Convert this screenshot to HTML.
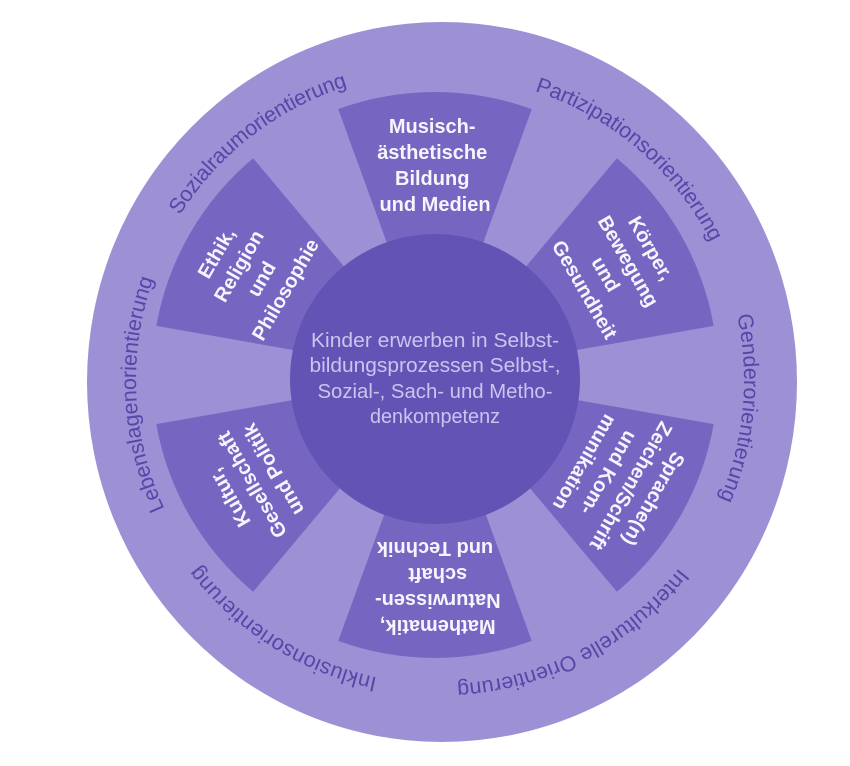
<!DOCTYPE html>
<html>
<head>
<meta charset="utf-8">
<style>
  html, body { margin:0; padding:0; background:#ffffff; }
  svg { display:block; }
  .seg { font-family:"Liberation Sans", Arial, sans-serif; font-weight:bold; font-size:20px; fill:#f6f4fc; }
  .ctr { font-family:"Liberation Sans", Arial, sans-serif; font-size:20px; fill:#cbc4ef; }
  .ring { font-family:"Liberation Sans", Arial, sans-serif; font-size:21.5px; fill:#5646a8; }
</style>
</head>
<body>
<svg width="850" height="766" viewBox="0 0 850 766" xmlns="http://www.w3.org/2000/svg">
  <defs>
    <path id="ringA" d="M 440 76 A 304 304 0 1 1 440 684 A 304 304 0 1 1 440 76"/>
    <path id="ringB" d="M 440 72 A 308 308 0 1 1 440 688 A 308 308 0 1 1 440 72"/>
  </defs>

  <!-- outer ring -->
  <ellipse cx="442" cy="382" rx="355" ry="360" fill="#9d90d5"/>

  <!-- segments -->
  <g fill="#7666c2">
    <path d="M435 375 L338.2 109.1 A283 283 0 0 1 531.8 109.1 Z"/>
    <path d="M435 375 L616.9 158.2 A283 283 0 0 1 713.7 325.9 Z"/>
    <path d="M435 375 L713.7 424.1 A283 283 0 0 1 616.9 591.8 Z"/>
    <path d="M435 375 L531.8 640.9 A283 283 0 0 1 338.2 640.9 Z"/>
    <path d="M435 375 L253.1 591.8 A283 283 0 0 1 156.3 424.1 Z"/>
    <path d="M435 375 L156.3 325.9 A283 283 0 0 1 253.1 158.2 Z"/>
  </g>

  <!-- center circle -->
  <circle cx="435" cy="379" r="145" fill="#6353b5"/>

  <!-- center text -->
  <g class="ctr" text-anchor="middle">
    <text x="435" y="347" textLength="248" lengthAdjust="spacingAndGlyphs">Kinder erwerben in Selbst-</text>
    <text x="435" y="372" textLength="251" lengthAdjust="spacingAndGlyphs">bildungsprozessen Selbst-,</text>
    <text x="435" y="398" textLength="235" lengthAdjust="spacingAndGlyphs">Sozial-, Sach- und Metho-</text>
    <text x="435" y="423" textLength="130" lengthAdjust="spacingAndGlyphs">denkompetenz</text>
  </g>

  <!-- segment texts -->
  <g transform="translate(435,164) rotate(0)">
    <text class="seg" text-anchor="middle">
      <tspan x="0" y="-31">Musisch-</tspan>
      <tspan x="0" y="-5">ästhetische</tspan>
      <tspan x="0" y="21">Bildung</tspan>
      <tspan x="0" y="47">und Medien</tspan>
    </text>
  </g>
  <g transform="translate(619.5,269.5) rotate(60)">
    <text class="seg" text-anchor="middle">
      <tspan x="0" y="-31">Körper,</tspan>
      <tspan x="0" y="-5">Bewegung</tspan>
      <tspan x="0" y="21">und</tspan>
      <tspan x="0" y="47">Gesundheit</tspan>
    </text>
  </g>
  <g transform="translate(619.5,482.5) rotate(120)">
    <text class="seg" text-anchor="middle">
      <tspan x="0" y="-31">Sprache(n)</tspan>
      <tspan x="0" y="-5">Zeichen/Schrift</tspan>
      <tspan x="0" y="21">und Kom-</tspan>
      <tspan x="0" y="47">munikation</tspan>
    </text>
  </g>
  <g transform="translate(435,589) rotate(180)">
    <text class="seg" text-anchor="middle">
      <tspan x="0" y="-31">Mathematik,</tspan>
      <tspan x="0" y="-5">Naturwissen-</tspan>
      <tspan x="0" y="21">schaft</tspan>
      <tspan x="0" y="47">und Technik</tspan>
    </text>
  </g>
  <g transform="translate(250.5,482.5) rotate(240)">
    <text class="seg" text-anchor="middle">
      <tspan x="0" y="-19">Kultur,</tspan>
      <tspan x="0" y="7">Gesellschaft</tspan>
      <tspan x="0" y="33">und Politik</tspan>
    </text>
  </g>
  <g transform="translate(250.5,269.5) rotate(300)">
    <text class="seg" text-anchor="middle">
      <tspan x="0" y="-31">Ethik,</tspan>
      <tspan x="0" y="-5">Religion</tspan>
      <tspan x="0" y="21">und</tspan>
      <tspan x="0" y="47">Philosophie</tspan>
    </text>
  </g>

  <!-- ring labels -->
  <text class="ring" text-anchor="middle"><textPath href="#ringB" startOffset="89.56%" textLength="216" lengthAdjust="spacing">Sozialraumorientierung</textPath></text>
  <text class="ring" text-anchor="middle"><textPath href="#ringA" startOffset="11.28%" textLength="238" lengthAdjust="spacing">Partizipationsorientierung</textPath></text>
  <text class="ring" text-anchor="middle"><textPath href="#ringA" startOffset="26.5%" textLength="188" lengthAdjust="spacing">Genderorientierung</textPath></text>
  <text class="ring" text-anchor="middle"><textPath href="#ringA" startOffset="42.36%" textLength="258" lengthAdjust="spacing">Interkulturelle Orientierung</textPath></text>
  <text class="ring" text-anchor="middle"><textPath href="#ringA" startOffset="58.94%" textLength="215" lengthAdjust="spacing">Inklusionsorientierung</textPath></text>
  <text class="ring" text-anchor="middle"><textPath href="#ringA" startOffset="74.22%" textLength="236" lengthAdjust="spacing">Lebenslagenorientierung</textPath></text>
</svg>
</body>
</html>
